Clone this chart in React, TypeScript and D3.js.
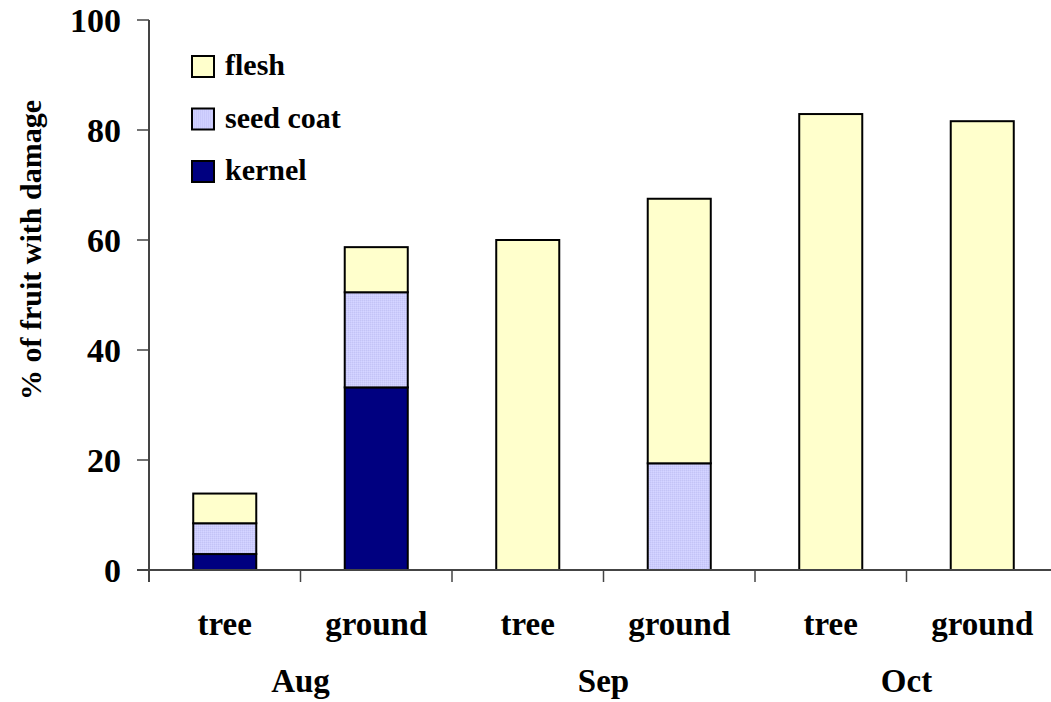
import React from "react";
import * as d3 from "d3";

const months = ["Aug", "Sep", "Oct"];
const positions = ["tree", "ground", "tree", "ground", "tree", "ground"];
const kernel = [2.9, 33.2, 0, 0, 0, 0];
const seedCoat = [5.6, 17.3, 0, 19.4, 0, 0];
const flesh = [5.4, 8.2, 60, 48.1, 82.9, 81.6];
const yTicks = [0, 20, 40, 60, 80, 100];
const seriesNames = ["kernel", "seed coat", "flesh"];

const W = 1051;
const H = 702;
const X0 = 149;
const X1 = 1058;
const Y0 = 570;
const Y1 = 20;

const colors: Record<string, string> = {
  kernel: "#000080",
  "seed coat": "url(#seedPat)",
  flesh: "#FFFFCC",
};

export default function App() {
  const idx = positions.map((_, i) => String(i));
  const x = d3.scaleBand<string>().domain(idx).range([X0, X1]).paddingInner(0.584).paddingOuter(0.292);
  const y = d3.scaleLinear().domain([0, 100]).range([Y0, Y1]);
  const rows = positions.map((p, i) => ({
    id: String(i),
    kernel: kernel[i],
    "seed coat": seedCoat[i],
    flesh: flesh[i],
  }));
  const stacked = d3.stack<any>().keys(seriesNames)(rows);
  const step = x.step();
  const font = '"Liberation Serif", "Times New Roman", Times, "DejaVu Serif", serif';
  const legendOrder = ["flesh", "seed coat", "kernel"];

  return (
    <svg width={W} height={H} style={{ position: "absolute", left: 0, top: 0, background: "#fff", fontFamily: font, fontWeight: "bold" }}>
      <defs>
        <pattern id="seedPat" width={2} height={2} patternUnits="userSpaceOnUse">
          <rect width={2} height={2} fill="#CCCCFF" />
          <rect width={1} height={1} fill="#C4C4F4" />
          <rect x={1} y={1} width={1} height={1} fill="#D6D6FF" />
        </pattern>
      </defs>
      <rect width={W} height={H} fill="#fff" />
      {stacked.map((s) =>
        s.map((d, i) => {
          if (d[1] - d[0] <= 0) return null;
          return (
            <rect
              key={s.key + i}
              x={x(String(i))}
              width={x.bandwidth()}
              y={y(d[1])}
              height={y(d[0]) - y(d[1])}
              fill={colors[s.key]}
              stroke="#000"
              strokeWidth={2}
            />
          );
        })
      )}
      <line x1={X0} x2={X0} y1={Y1} y2={Y0 + 12} stroke="#444" strokeWidth={2} />
      {yTicks.map((t) => (
        <g key={t}>
          <line x1={X0 - 12} x2={X0} y1={y(t)} y2={y(t)} stroke="#444" strokeWidth={1.5} />
          <text x={121} y={y(t)} dy="0.35em" textAnchor="end" fontSize={34} style={{ fontFamily: font }}>
            {t}
          </text>
        </g>
      ))}
      <line x1={X0 - 12} x2={W} y1={Y0} y2={Y0} stroke="#444" strokeWidth={2} />
      {positions.map((_, i) => (
        <line key={i} x1={X0 + i * step} x2={X0 + i * step} y1={Y0} y2={Y0 + 12} stroke="#444" strokeWidth={1.5} />
      ))}
      {positions.map((p, i) => (
        <text key={"p" + i} x={(x(String(i)) as number) + x.bandwidth() / 2} y={635} textAnchor="middle" fontSize={33} style={{ fontFamily: font }}>
          {p}
        </text>
      ))}
      {months.map((m, i) => (
        <text key={m} x={X0 + step * (2 * i + 1)} y={692} textAnchor="middle" fontSize={33} style={{ fontFamily: font }}>
          {m}
        </text>
      ))}
      <text transform={`translate(41, 250) rotate(-90)`} textAnchor="middle" fontSize={30} style={{ fontFamily: font }}>
        % of fruit with damage
      </text>
      {legendOrder.map((k, i) => (
        <g key={k} transform={`translate(192, ${56 + i * 52.5})`}>
          <rect width={22} height={21} fill={colors[k]} stroke="#000" strokeWidth={2} />
          <text x={33} y={19} fontSize={30} style={{ fontFamily: font }}>
            {k}
          </text>
        </g>
      ))}
    </svg>
  );
}
